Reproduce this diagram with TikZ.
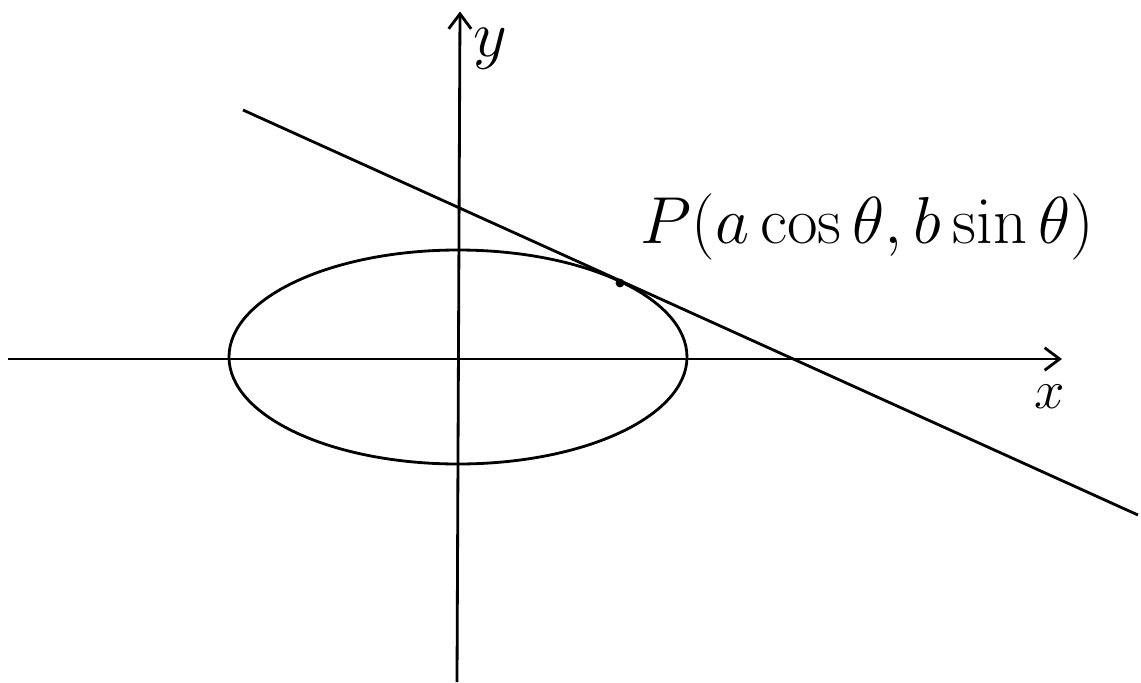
\documentclass[tikz,border=0pt]{standalone}
\usepackage{amsmath}
\usetikzlibrary{arrows.meta}

\begin{document}
\begin{tikzpicture}[>={Straight Barb[length=3mm,width=4.5mm]}, line width=1.6pt]
  \useasboundingbox (-9.14,-6.46) rectangle (13.68,7.18);
  % axes
  \coordinate (xl) at (-8.98,0);
  \coordinate (xr) at (12.1,0);
  \coordinate (yb) at (0,-6.46);
  \coordinate (yt) at (0.06,6.95);
  \draw[->] (xl) -- (xr);
  \draw[->] (yb) -- (yt);
  \node[scale=1.25] (xlab) at (11.85,-0.75){\Huge$x$};
  \node[scale=1.5] (ylab) at (0.66,6.2){\Huge$y$};
  % ellipse
  \draw (0.02,0.04) ellipse (4.58 and 2.14);
  % tangent at P
  \coordinate (tl) at (-4.28,4.98);
  \coordinate (tr) at (13.62,-3.12);
  \draw (tl) -- (tr);
  \fill (3.26,1.52) circle (2.5pt) coordinate (P);
  \node[right, scale=1.52] (plab) at (3.45,2.65){\Huge$P(a\cos\theta, b\sin\theta)$};
\end{tikzpicture}
\end{document}
